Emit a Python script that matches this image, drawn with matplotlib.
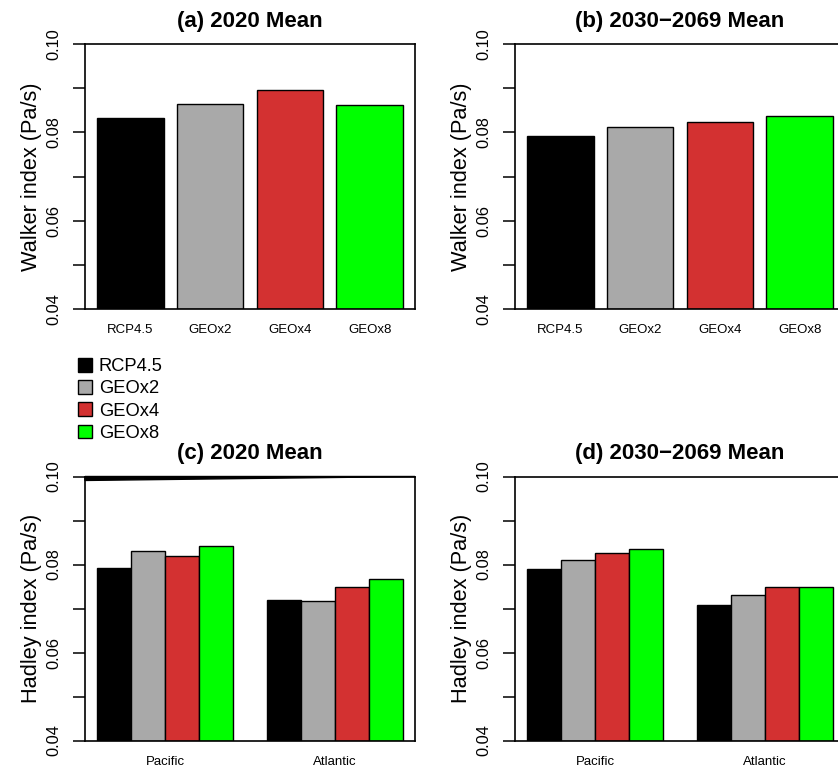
import matplotlib
matplotlib.use("Agg")
import matplotlib.pyplot as plt
from matplotlib.patches import Patch
import numpy as np

plt.rcParams["font.family"] = ["Liberation Sans", "DejaVu Sans"]

# scenarios and colours
scenarios = ["RCP4.5", "GEOx2", "GEOx4", "GEOx8"]
colors = ["#000000", "#A9A9A9", "#D33131", "#00FF00"]
basins = ["Pacific", "Atlantic"]

# Walker index (Pa/s)
walker_2020 = [0.0832, 0.0865, 0.0895, 0.0862]
walker_2030_2069 = [0.0791, 0.0813, 0.0823, 0.0837]

# Hadley index (Pa/s), rows = basins, columns = scenarios
hadley_2020 = [[0.0792, 0.0830, 0.0819, 0.0843],
               [0.0720, 0.0716, 0.0748, 0.0766]]
hadley_2030_2069 = [[0.0790, 0.0811, 0.0826, 0.0835],
                    [0.0709, 0.0730, 0.0749, 0.0749]]

# odd dark sliver along the top of panel (c)
wedge_y = [0.0991, 0.1000]

ymin, ymax = 0.04, 0.10
yticks = np.arange(0.04, 0.1001, 0.01)

fig = plt.figure(figsize=(8.38, 7.67), dpi=100)
W, H = 838.0, 767.0


def make_ax(left, top, width=330, height=265):
    return fig.add_axes([left / W, 1 - (top + height) / H, width / W, height / H])


def style_ax(ax, title, ylabel):
    ax.set_ylim(ymin, ymax)
    ax.set_yticks(yticks)
    ax.set_yticklabels(["0.04", "", "0.06", "", "0.08", "", "0.10"],
                       rotation=90, va="center")
    ax.tick_params(axis="y", length=8.6, width=1.1, pad=8.3, labelsize=11.8)
    ax.tick_params(axis="x", length=0, pad=11, labelsize=9.5)
    for s in ax.spines.values():
        s.set_linewidth(1.2)
    ax.set_title(title, fontsize=16, fontweight="bold", pad=12.3)
    ax.set_ylabel(ylabel, fontsize=15.7)
    ax.yaxis.set_label_coords(-0.13, 0.5)


def walker_panel(ax, vals, title):
    x = np.arange(len(scenarios)) * 1.2 + 0.7
    ax.bar(x, np.array(vals) - ymin, bottom=ymin, width=1.0, color=colors,
           edgecolor="black", linewidth=1.0)
    ax.set_xlim(0.016, 4.984)
    ax.set_xticks(x)
    ax.set_xticklabels(scenarios)
    style_ax(ax, title, "Walker index (Pa/s)")


def hadley_panel(ax, vals, title):
    vals = np.array(vals)
    for g in range(len(basins)):
        x = 1 + g * 5 + np.arange(len(scenarios)) + 0.5
        ax.bar(x, vals[g] - ymin, bottom=ymin, width=1.0, color=colors,
               edgecolor="black", linewidth=1.0)
    ax.set_xlim(0.64, 10.36)
    ax.set_xticks([3, 8])
    ax.set_xticklabels(basins)
    style_ax(ax, title, "Hadley index (Pa/s)")


ax_a = make_ax(85, 44)
ax_b = make_ax(515, 44)
ax_c = make_ax(85, 476.5, height=264)
ax_d = make_ax(515, 476.5, height=264)

walker_panel(ax_a, walker_2020, "(a) 2020 Mean")
walker_panel(ax_b, walker_2030_2069, "(b) 2030\u22122069 Mean")
hadley_panel(ax_c, hadley_2020, "(c) 2020 Mean")
hadley_panel(ax_d, hadley_2030_2069, "(d) 2030\u22122069 Mean")

xl = ax_c.get_xlim()
ax_c.fill([xl[0], xl[0], xl[1]], [ymax, wedge_y[0], wedge_y[1]],
          color="black", clip_on=False, zorder=5)

handles = [Patch(facecolor=c, edgecolor="black", linewidth=1.0) for c in colors]
fig.legend(handles, scenarios, loc="upper left",
           bbox_to_anchor=(78 / W, 1 - 358 / H), frameon=False,
           fontsize=13.2, handlelength=0.78, handleheight=0.78,
           handletextpad=0.35, labelspacing=0.27, borderpad=0, borderaxespad=0)

fig.savefig("out.png", dpi=100)
